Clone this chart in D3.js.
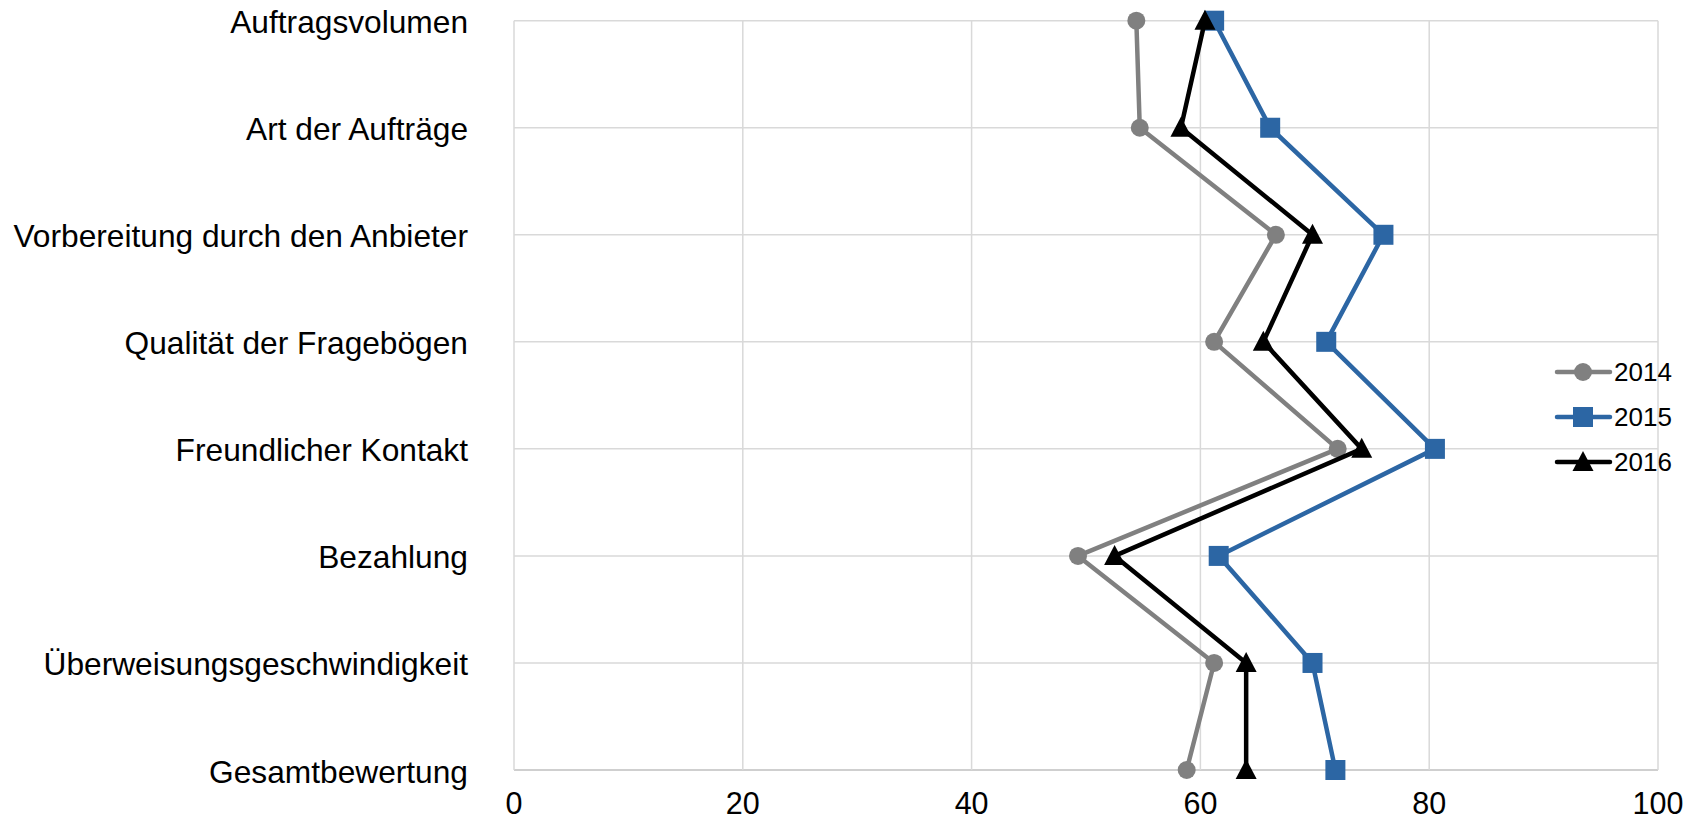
<!DOCTYPE html>
<html><head><meta charset="utf-8">
<script src="https://cdn.jsdelivr.net/npm/d3@7"></script>
<style>body{margin:0;background:#fff}svg{display:block}text{font-family:"Liberation Sans",Arial,sans-serif;fill:#000}</style>
</head><body>
<svg id="c" width="1698" height="822"></svg>
<script>
const categories = ["Auftragsvolumen","Art der Aufträge","Vorbereitung durch den Anbieter","Qualität der Fragebögen","Freundlicher Kontakt","Bezahlung","Überweisungsgeschwindigkeit","Gesamtbewertung"];
const series2014 = [54.4, 54.7, 66.6, 61.2, 72.0, 49.3, 61.2, 58.8];
const series2015 = [61.2, 66.1, 76.0, 71.0, 80.5, 61.6, 69.8, 71.8];
const series2016 = [60.4, 58.3, 69.8, 65.5, 74.1, 52.5, 64.0, 64.0];
const seriesNames = ["2014","2015","2016"];
const xTicks = [0,20,40,60,80,100];

(function(){
const svg = d3.select("#c");
const pL = 514, pR = 1658, pT = 20.7, pB = 770;
const x = d3.scaleLinear().domain([0,100]).range([pL,pR]);
const y = d3.scalePoint().domain(categories).range([pT,pB]);

const series = [
  {name: seriesNames[0], values: series2014, color:"#808080", marker:"circle"},
  {name: seriesNames[1], values: series2015, color:"#2c66a4", marker:"square"},
  {name: seriesNames[2], values: series2016, color:"#000000", marker:"triangle"}
];

// grid
const g = svg.append("g");
g.selectAll("line.h").data(categories).join("line")
  .attr("x1",pL).attr("x2",pR).attr("y1",d=>y(d)).attr("y2",d=>y(d))
  .attr("stroke",d=>d===categories[categories.length-1]?"#bfbfbf":"#d9d9d9").attr("stroke-width",1.5);
g.selectAll("line.v").data(xTicks).join("line")
  .attr("x1",d=>x(d)).attr("x2",d=>x(d)).attr("y1",pT).attr("y2",pB)
  .attr("stroke","#d9d9d9").attr("stroke-width",1.5);

// category labels
svg.append("g").selectAll("text").data(categories).join("text")
  .attr("x",468).attr("y",d=>y(d)+12.5).attr("text-anchor","end")
  .attr("font-size",31.7).text(d=>d);

// x tick labels
svg.append("g").selectAll("text").data(xTicks).join("text")
  .attr("x",d=>x(d)).attr("y",pB+44).attr("text-anchor","middle")
  .attr("font-size",30.5).text(d=>d);

function drawMarker(sel, type, color){
  if(type==="circle"){
    sel.append("circle").attr("r",9).attr("fill",color);
  } else if(type==="square"){
    sel.append("rect").attr("x",-10).attr("y",-10).attr("width",20).attr("height",20).attr("fill",color);
  } else {
    sel.append("path").attr("d","M0,-11L10.5,9L-10.5,9Z").attr("fill",color);
  }
}

const line = d3.line().x(d=>x(d.v)).y(d=>y(d.c));
series.forEach(s=>{
  const pts = s.values.map((v,i)=>({v, c:categories[i]}));
  const sg = svg.append("g");
  sg.append("path").datum(pts).attr("d",line).attr("fill","none")
    .attr("stroke",s.color).attr("stroke-width",4.5).attr("stroke-linejoin","round");
  sg.selectAll("g.m").data(pts).join("g")
    .attr("transform",d=>`translate(${x(d.v)},${y(d.c)})`)
    .each(function(){ drawMarker(d3.select(this), s.marker, s.color); });
});

// legend
const lg = svg.append("g");
series.forEach((s,i)=>{
  const ly = 372 + i*45;
  const item = lg.append("g");
  item.append("line").attr("x1",1557).attr("x2",1610).attr("y1",ly).attr("y2",ly)
    .attr("stroke",s.color).attr("stroke-width",4.5).attr("stroke-linecap","round");
  const m = item.append("g").attr("transform",`translate(1583,${ly})`);
  drawMarker(m, s.marker, s.color);
  item.append("text").attr("x",1614).attr("y",ly+9).attr("font-size",26).text(s.name);
});
})();
</script>
</body></html>
